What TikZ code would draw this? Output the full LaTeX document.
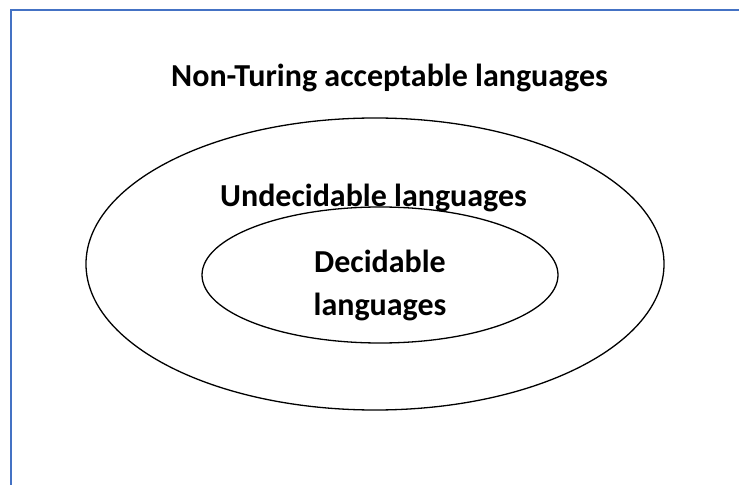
\documentclass[tikz,border=0pt]{standalone}
\usepackage{fontspec}
\setmainfont{Carlito}
\definecolor{frameblue}{HTML}{4472C4}

\begin{document}
\begin{tikzpicture}[x=1bp,y=-1bp,every node/.style={inner sep=0pt, outer sep=0pt, font=\fontsize{32bp}{42bp}\selectfont\bfseries}]

\useasboundingbox (0,0) rectangle (739,485);
\draw[color=frameblue,line width=2.2bp] (11,490) -- (11,10) -- (745,10);

\draw[line width=1.3bp] (375,264) ellipse [x radius=289, y radius=146];
\draw[line width=1.3bp] (380,275) ellipse [x radius=178, y radius=68];

\node[anchor=base] (nonta) at (389.5,87) {Non-Turing acceptable languages};
\node[anchor=base] (undec) at (373.5,207) {Undecidable languages};
\node[anchor=base,align=center] (dec) at (380,315) {Decidable\\languages};
\end{tikzpicture}
\end{document}
